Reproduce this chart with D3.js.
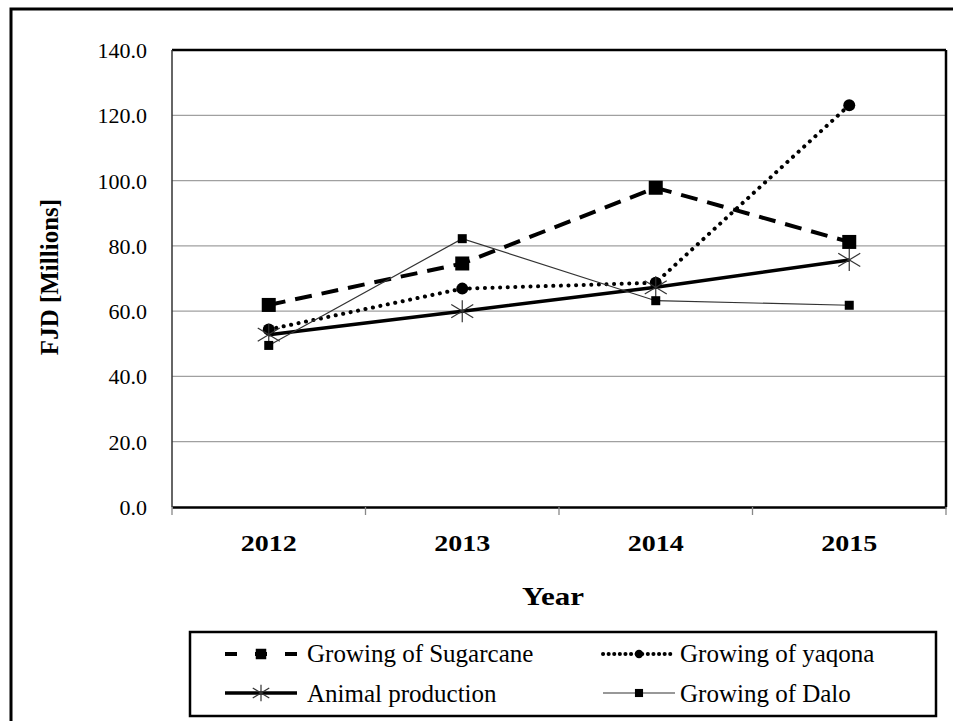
<!DOCTYPE html>
<html>
<head>
<meta charset="utf-8">
<script src="https://cdn.jsdelivr.net/npm/d3@7"></script>
<style>
  html, body { margin: 0; padding: 0; background: #fff; }
  svg { display: block; }
</style>
</head>
<body>
<svg id="chart" width="953" height="721" font-family="Liberation Serif"></svg>
<script>
const years = ["2012", "2013", "2014", "2015"];
const sugarcane = [61.9, 74.6, 97.8, 81.2];
const yaqona = [54.4, 66.9, 68.7, 123.1];
const animal = [52.8, 60.0, 67.3, 75.7];
const dalo = [49.5, 82.2, 63.2, 61.8];
const yTicks = [0, 20, 40, 60, 80, 100, 120, 140];
const seriesNames = ["Growing of Sugarcane", "Growing of yaqona", "Animal production", "Growing of Dalo"];

const FONT = "Liberation Serif";
const svg = d3.select("#chart");
const plot = { left: 172, top: 50, right: 946, bottom: 507 };

// outer frame (right/bottom edges beyond the picture)
svg.append("rect").attr("x", 11).attr("y", 9).attr("width", 960).attr("height", 740)
  .attr("fill", "none").attr("stroke", "#000").attr("stroke-width", 3);

const x = d3.scaleBand().domain(years).range([plot.left, plot.right]).padding(0);
const y = d3.scaleLinear().domain([0, 140]).range([plot.bottom, plot.top]);

// gridlines
svg.append("g").selectAll("line").data(yTicks.filter(d => d > 0 && d < 140)).join("line")
  .attr("x1", plot.left).attr("x2", plot.right)
  .attr("y1", d => y(d)).attr("y2", d => y(d))
  .attr("stroke", "#a0a0a0").attr("stroke-width", 1.3);

// plot frame
svg.append("line").attr("x1", plot.left).attr("x2", plot.right).attr("y1", plot.top).attr("y2", plot.top)
  .attr("stroke", "#000").attr("stroke-width", 2.5);
svg.append("line").attr("x1", plot.right).attr("x2", plot.right).attr("y1", plot.top).attr("y2", plot.bottom)
  .attr("stroke", "#000").attr("stroke-width", 2.5);
svg.append("line").attr("x1", plot.left).attr("x2", plot.left).attr("y1", plot.top).attr("y2", plot.bottom)
  .attr("stroke", "#333").attr("stroke-width", 1.5);

// y axis labels
const yAxis = d3.axisLeft(y).tickValues(yTicks).tickSize(0).tickPadding(25).tickFormat(d3.format(".1f"));
const gy = svg.append("g").attr("transform", `translate(${plot.left},0)`).call(yAxis);
gy.attr("font-family", null).attr("font-size", null);
gy.select(".domain").remove();
gy.selectAll("text").attr("fill", "#000").attr("dy", "0.34em")
  .attr("font-family", FONT).style("font-family", FONT).attr("font-size", 22);

// x axis
const xAxis = d3.axisBottom(x).tickSize(0).tickPadding(0);
const gx = svg.append("g").attr("transform", `translate(0,${plot.bottom})`).call(xAxis);
gx.attr("font-family", null).attr("font-size", null);
gx.select(".domain").attr("stroke", "#000").attr("stroke-width", 2.5);
gx.selectAll("text").attr("fill", "#000").attr("y", 44).attr("dy", 0)
  .attr("font-family", FONT).style("font-family", FONT).attr("font-size", 24).attr("font-weight", "bold")
  .attr("textLength", 56).attr("lengthAdjust", "spacingAndGlyphs");
// tick marks at category boundaries
const bounds = years.map(d => x(d)).concat([x(years[years.length - 1]) + x.bandwidth()]);
svg.append("g").selectAll("line").data(bounds).join("line")
  .attr("x1", d => d).attr("x2", d => d).attr("y1", plot.bottom).attr("y2", plot.bottom + 8)
  .attr("stroke", "#888").attr("stroke-width", 1.3);

// axis titles
svg.append("text").attr("x", 553).attr("y", 605).attr("font-family", FONT)
  .attr("text-anchor", "middle").attr("font-size", 25).attr("font-weight", "bold")
  .attr("textLength", 62).attr("lengthAdjust", "spacingAndGlyphs").text("Year");
svg.append("text").attr("transform", `translate(58,277) rotate(-90)`).attr("font-family", FONT)
  .attr("text-anchor", "middle").attr("font-size", 25).attr("font-weight", "bold").text("FJD [Millions]");

const cx = d => x(d) + x.bandwidth() / 2;
const series = [
  { name: seriesNames[0], vals: sugarcane, width: 4, dash: "17,10", ldash: "12,18", cap: "butt", color: "#000", marker: "bigsq", ls: 0.75 },
  { name: seriesNames[1], vals: yaqona, width: 4, dash: "0.1,7.5", ldash: "0.1,5.5", cap: "round", color: "#000", marker: "circle", ls: 0.7 },
  { name: seriesNames[2], vals: animal, width: 3.5, dash: null, cap: "butt", color: "#000", marker: "star", ls: 0.75 },
  { name: seriesNames[3], vals: dalo, width: 1.2, dash: null, cap: "butt", color: "#333", marker: "smallsq", ls: 0.9 }
];

const line = d3.line().x(d => d[0]).y(d => d[1]);

function drawMarker(g, type, px, py, scale) {
  if (type === "bigsq") {
    const s = 14 * scale;
    g.append("rect").attr("x", px - s / 2).attr("y", py - s / 2).attr("width", s).attr("height", s).attr("fill", "#000");
  } else if (type === "smallsq") {
    const s = 9 * scale;
    g.append("rect").attr("x", px - s / 2).attr("y", py - s / 2).attr("width", s).attr("height", s).attr("fill", "#000");
  } else if (type === "circle") {
    g.append("circle").attr("cx", px).attr("cy", py).attr("r", 6 * scale).attr("fill", "#000");
  } else if (type === "star") {
    const r = 11 * scale;
    const st = g.append("g").attr("stroke", "#333").attr("stroke-width", 1.2);
    st.append("line").attr("x1", px).attr("x2", px).attr("y1", py - r).attr("y2", py + r);
    st.append("line").attr("x1", px - r).attr("x2", px + r).attr("y1", py - r * 0.6).attr("y2", py + r * 0.6);
    st.append("line").attr("x1", px - r).attr("x2", px + r).attr("y1", py + r * 0.6).attr("y2", py - r * 0.6);
  }
}

series.forEach(s => {
  const pts = years.map((yr, i) => [cx(yr), y(s.vals[i])]);
  const p = svg.append("path").attr("d", line(pts)).attr("fill", "none")
    .attr("stroke", s.color).attr("stroke-width", s.width).attr("stroke-linecap", s.cap);
  if (s.dash) p.attr("stroke-dasharray", s.dash);
  const mg = svg.append("g");
  pts.forEach(pt => drawMarker(mg, s.marker, pt[0], pt[1], 1));
});

// legend
const leg = svg.append("g");
leg.append("rect").attr("x", 190).attr("y", 632).attr("width", 746).attr("height", 84)
  .attr("fill", "#fff").attr("stroke", "#000").attr("stroke-width", 2.5);
const legPos = [
  { sx: 225, tx: 307, cy: 654, ty: 662 },
  { sx: 603, tx: 680, cy: 654, ty: 662 },
  { sx: 225, tx: 307, cy: 693, ty: 702 },
  { sx: 603, tx: 680, cy: 693, ty: 702 }
];
series.forEach((s, i) => {
  const lp = legPos[i];
  const len = 72;
  const p = leg.append("path").attr("d", line([[lp.sx, lp.cy], [lp.sx + len, lp.cy]]))
    .attr("fill", "none").attr("stroke", s.color).attr("stroke-width", s.width).attr("stroke-linecap", s.cap);
  if (s.ldash) p.attr("stroke-dasharray", s.ldash);
  drawMarker(leg, s.marker, lp.sx + len / 2, lp.cy, s.ls);
  leg.append("text").attr("x", lp.tx).attr("y", lp.ty).attr("font-family", FONT)
    .attr("font-size", 25).attr("fill", "#000").text(s.name);
});
</script>
</body>
</html>
